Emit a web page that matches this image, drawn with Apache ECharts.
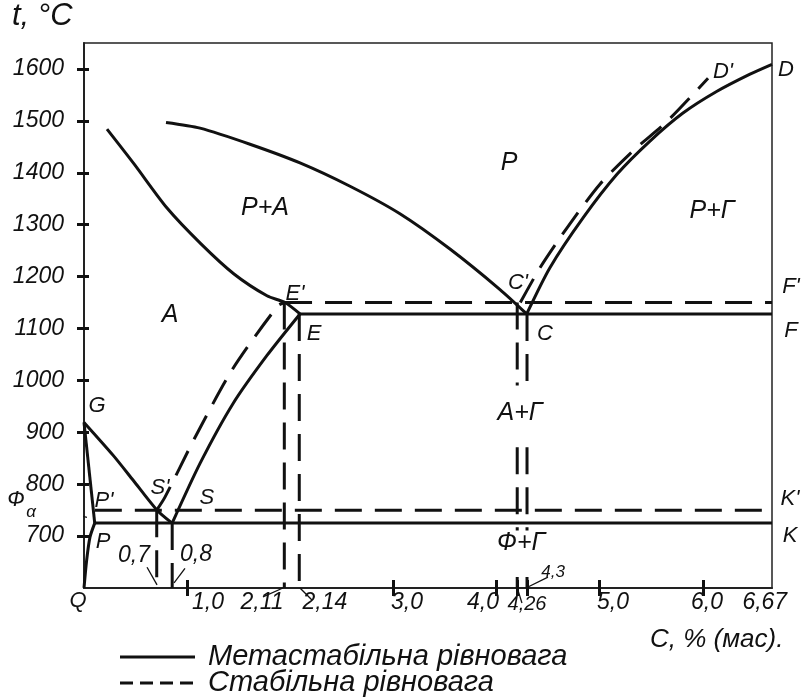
<!DOCTYPE html>
<html><head><meta charset="utf-8">
<script src="https://cdn.jsdelivr.net/npm/echarts@6/dist/echarts.min.js"></script>
<style>html,body{margin:0;padding:0;background:#fff}#c{width:808px;height:700px}</style>
</head><body><div id="c"></div>
<script>
const FONT = "'Liberation Sans', Arial, sans-serif";
const INK = '#111';

// axis ticks
const yTicks = [700, 800, 900, 1000, 1100, 1200, 1300, 1400, 1500, 1600];
const xTicks = [1, 3, 4, 4.2, 4.295, 5, 6];

// metastable (solid) lines: [C %, t °C]
const liquidusAC = [[0.795,1497],[1.125,1486],[1.609,1455],[2.094,1419],[2.579,1374],[3.063,1321],[3.548,1253],[4.033,1175],[4.292,1128]];
const liquidusCD = [[4.292,1128],[4.517,1217],[4.838,1313],[5.167,1397],[5.487,1461],[5.807,1515],[6.137,1557],[6.457,1590],[6.67,1609]];
const solidusAE = [[0.223,1484],[0.485,1417],[0.805,1332],[1.134,1263],[1.454,1205],[1.774,1163],[1.949,1150],[2.094,1128]];
const lineECF = [[2.094,1128],[6.67,1128]];
const lineES = [[0.855,725],[1.125,840],[1.444,955],[1.774,1048],[2.094,1128]];
const lineGS = [[0,919],[0.281,856],[0.475,808],[0.708,750],[0.855,725]];
const lineGP = [[0,919],[0.104,725]];
const linePSK = [[0.104,725],[6.67,725]];
const linePQ = [[0.104,725],[0.058,698],[0.026,654],[0,600]];

// stable (dashed) lines
const liquidusCpDp = [[4.23,1150],[4.421,1217],[4.683,1294],[5.002,1378],[5.322,1442],[5.652,1499],[6.05,1582]];
const lineEpFp = [[1.949,1150],[6.67,1150]];
const lineSpEp = [[0.705,750],[0.785,775],[1.076,890],[1.444,1023],[1.881,1144],[1.949,1150]];
const linePpKp = [[0.105,750],[6.67,750]];
const dropSp = [[0.705,750],[0.705,600]];
const dropS = [[0.855,725],[0.855,600]];
const dropEp = [[1.942,1150],[1.942,600]];
const dropE = [[2.087,1128],[2.087,600]];
// verticals under C' and C, interrupted where the A+Г and Ф+Г labels sit
const dropCp = [[4.2,1150],[4.2,990],[4.2,'-'],[4.2,871],[4.2,711],[4.2,'-'],[4.2,621],[4.2,600]];
const dropC = [[4.295,1128],[4.295,990],[4.295,'-'],[4.295,871],[4.295,711],[4.295,'-'],[4.295,621],[4.295,600]];

// thin leader lines
const leaders = [
  [[-0.494,763],[0.029,736]],
  [[0.611,640],[0.708,606]],
  [[0.979,638],[0.873,610]],
  [[1.735,583],[1.929,600]],
  [[2.094,600],[2.21,577]],
  [[4.207,596],[4.246,571]],
  [[4.304,602],[4.498,621]]
];

// labels: [text, C %, t °C]
const pointLabels = [
  ['G',0.126,950],["P'",0.194,767],["S'",0.737,792],['S',1.192,773],['P',0.184,688],
  ["E'",2.046,1167],['E',2.23,1090],["C'",4.207,1188],['C',4.469,1090],
  ["F'",6.854,1180],['F',6.854,1096],["K'",6.845,771],['K',6.845,700],
  ["D'",6.195,1595],['D',6.806,1599],['Q',-0.058,575],['Ф',-0.66,769]
];
const regionLabels = [
  ['P',4.12,1419],['P+A',1.755,1332],['A',0.834,1125],['P+Г',6.088,1326],
  ['A+Г',4.227,938],['Ф+Г',4.237,686]
];
const tickLabels = [
  ['1,0',1.202,571],['2,11',1.726,571],['2,14',2.336,571],['3,0',3.131,571],['4,0',3.868,571],
  ['5,0',5.128,571],['6,0',6.04,571],['6,67',6.6,571],['0,7',0.485,663],['0,8',1.086,665]
];
const narrowLabels = [['4,26',4.295,569]];
const smallLabels = [['4,3',4.547,631],['α',-0.514,746]];

const SOLID = 'Метастабільна рівновага';
const STABLE = 'Стабільна рівновага';

function line(data, dashed, smooth, width) {
  return {
    type: 'line', data: data, symbol: 'none', silent: true, clip: false, connectNulls: false,
    smooth: smooth ? 0.25 : false, animation: false,
    lineStyle: { color: INK, width: width || 3, type: dashed ? [27, 13] : 'solid', cap: 'butt' }
  };
}
function texts(items, size) {
  return {
    type: 'custom', coordinateSystem: 'cartesian2d', clip: false, silent: true, z: 5, animation: false,
    data: items.map(d => [d[1], d[2]]),
    renderItem: function (params, api) {
      const p = api.coord([api.value(0), api.value(1)]);
      return { type: 'text', x: p[0], y: p[1], style: { text: items[params.dataIndex][0],
        font: 'italic ' + size + 'px ' + FONT, fill: INK, align: 'center', verticalAlign: 'middle' } };
    }
  };
}

const series = [
  line(liquidusAC, false, true), line(liquidusCD, false, true),
  line(solidusAE, false, true), line(lineECF, false),
  line(lineES, false, true), line(lineGS, false, true),
  line(lineGP, false), line(linePSK, false), line(linePQ, false, true),
  line(liquidusCpDp, true, true), line(lineEpFp, true),
  line(lineSpEp, true, true), line(linePpKp, true),
  line(dropSp, true), line(dropS, true), line(dropEp, true),
  line(dropE, true), line(dropCp, true), line(dropC, true)
];
leaders.forEach(l => series.push(line(l, false, false, 1.3)));
series.push(texts(pointLabels, 22));
series.push(texts(regionLabels, 25));
series.push(texts(tickLabels, 23));
series.push(texts(narrowLabels, 20));
series.push(texts(smallLabels, 17));

const chart = echarts.init(document.getElementById('c'), null, { renderer: 'canvas' });
chart.setOption({
  animation: false,
  backgroundColor: '#fff',
  grid: { left: 84, right: 36, top: 43, bottom: 112, show: true, borderColor: '#222', borderWidth: 1.5 },
  xAxis: [
    { type: 'value', min: 0, max: 6.67, position: 'bottom', splitLine: { show: false },
      axisLine: { lineStyle: { color: '#222', width: 2 } },
      axisTick: { customValues: xTicks, length: 8, lineStyle: { color: INK, width: 3 } },
      axisLabel: { show: false } },
    { type: 'value', min: 0, max: 6.67, position: 'bottom', splitLine: { show: false },
      axisLine: { show: false },
      axisTick: { customValues: xTicks, inside: true, length: 8, lineStyle: { color: INK, width: 3 } },
      axisLabel: { show: false } }
  ],
  yAxis: [
    { type: 'value', min: 600, max: 1650, interval: 100, position: 'left', splitLine: { show: false },
      axisLine: { lineStyle: { color: '#222', width: 2 } },
      axisTick: { customValues: yTicks, length: 7, lineStyle: { color: INK, width: 3 } },
      axisLabel: { customValues: yTicks, margin: 20, formatter: v => String(v),
        fontSize: 23, fontStyle: 'italic', fontFamily: FONT, color: INK } },
    { type: 'value', min: 600, max: 1650, interval: 100, position: 'left', splitLine: { show: false },
      axisLine: { show: false },
      axisTick: { customValues: yTicks, inside: true, length: 5, lineStyle: { color: INK, width: 3 } },
      axisLabel: { show: false } }
  ],
  graphic: [
    { type: 'text', left: 12, top: 1, style: { text: 't, °C', font: 'italic 31px ' + FONT, fill: INK } },
    { type: 'text', left: 650, top: 627, style: { text: 'C, % (мас).', font: 'italic 26px ' + FONT, fill: INK } },
    { type: 'line', shape: { x1: 120, y1: 657, x2: 195, y2: 657 }, style: { stroke: INK, lineWidth: 3 } },
    { type: 'line', shape: { x1: 120, y1: 683, x2: 195, y2: 683 }, style: { stroke: INK, lineWidth: 3, lineDash: [13, 7] } },
    { type: 'text', x: 208, y: 657, style: { text: SOLID, font: 'italic 29px ' + FONT, fill: INK, verticalAlign: 'middle' } },
    { type: 'text', x: 208, y: 683, style: { text: STABLE, font: 'italic 29px ' + FONT, fill: INK, verticalAlign: 'middle' } }
  ],
  series: series
});
</script></body></html>
